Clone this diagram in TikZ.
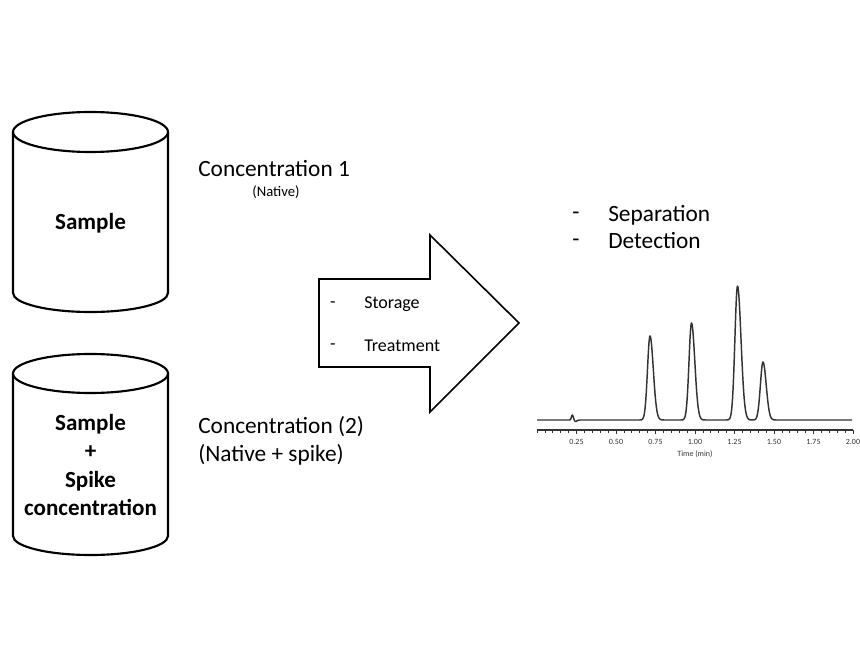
\documentclass[tikz,border=0pt]{standalone}
\usepackage{fontspec}
\setmainfont{Carlito}
\begin{document}
\begin{tikzpicture}[x=0.75pt,y=-0.75pt,
  cyl/.style={draw=black,line width=1.6pt},
  arrowbox/.style={draw=black,line width=1.2pt,line join=miter},
  big/.style={font=\fontsize{17.5}{21}\selectfont,inner sep=0pt},
  bigbold/.style={font=\bfseries\fontsize{17.3}{21.4}\selectfont,inner sep=0pt,align=center},
  mid/.style={font=\fontsize{13.5}{16}\selectfont,inner sep=0pt},
  small/.style={font=\fontsize{11}{13}\selectfont,inner sep=0pt},
  tiny/.style={font=\fontsize{6}{7}\selectfont,inner sep=0pt,text=black!80},
  trace/.style={draw=black!80,line width=1.1pt,line join=round},
  declare function={g(\x,\c,\l,\r)=exp(-0.5*(min(8,abs((\x-\c)/((\x<\c)*\l+(\x>=\c)*\r))))^2);},
]
\useasboundingbox (0,0) rectangle (860,645);
% cylinder 1
\draw[cyl] (13,132) -- (13,293) arc[start angle=180,end angle=0,x radius=77.5,y radius=19] -- (168,132);
\draw[cyl] (90.5,132) ellipse[x radius=77.5,y radius=20];
\node[bigbold,anchor=base] (s1) at (90.5,230) {Sample};
% cylinder 2
\draw[cyl] (13,373.5) -- (13,536) arc[start angle=180,end angle=0,x radius=77.5,y radius=19] -- (168,373.5);
\draw[cyl] (90.5,373.5) ellipse[x radius=77.5,y radius=19.5];
\node[bigbold,anchor=center] (s2) at (90.5,465) {Sample\\+\\Spike\\concentration};
% concentration labels
\node[big,anchor=base west] (c1) at (198,177) {Concentration 1};
\node[small,anchor=base] (c1n) at (276,197) {(Native)};
\node[big,anchor=base west] (c2) at (198,433) {Concentration (2)};
\node[big,anchor=base west] (c2n) at (198,461) {(Native + spike)};
% arrow
\draw[arrowbox] (319,279) -- (430,279) -- (430,235) -- (519,323) -- (430,412) -- (430,367) -- (319,367) -- cycle;
\node[mid,anchor=base] (d1) at (333,307) {-};
\node[mid,anchor=base west] (st) at (364,309) {Storage};
\node[mid,anchor=base] (d2) at (333,349) {-};
\node[mid,anchor=base west] (tr) at (364,351) {Treatment};
% separation / detection
\node[big,anchor=base] (d3) at (576,220) {-};
\node[big,anchor=base west] (sep) at (608,222) {Separation};
\node[big,anchor=base] (d4) at (576,247) {-};
\node[big,anchor=base west] (det) at (608,249) {Detection};
% chromatogram
\draw[trace] plot[domain=537:852,samples=800] (\x,{420
  -84*g(\x,650,2.5,3.3)
  -97*g(\x,691.5,2.5,3.3)
  -134*g(\x,737.5,2.6,3.5)
  -58*g(\x,763,2.6,3.2)
  -5*g(\x,572.3,0.9,1.0)
  +1.5*g(\x,575.5,1,1.5)});
\draw[black!80,line width=0.8pt] (537,430) coordinate (ax0) -- (853,430) coordinate (ax1);
\foreach \i in {0,...,40}{
  \draw[black!80,line width=0.5pt] ({537+158*\i*0.05},430) -- ++(0,2.5);
}
\foreach \t/\lab in {0.25/0.25,0.5/0.50,0.75/0.75,1/1.00,1.25/1.25,1.5/1.50,1.75/1.75,2/2.00}{
  \draw[black!80,line width=0.6pt] ({537+158*\t},430) -- ++(0,3.5);
  \node[tiny] at ({537+158*\t},442) {\lab};
}
\node[tiny] (tm) at (695,454) {Time (min)};
\end{tikzpicture}
\end{document}
